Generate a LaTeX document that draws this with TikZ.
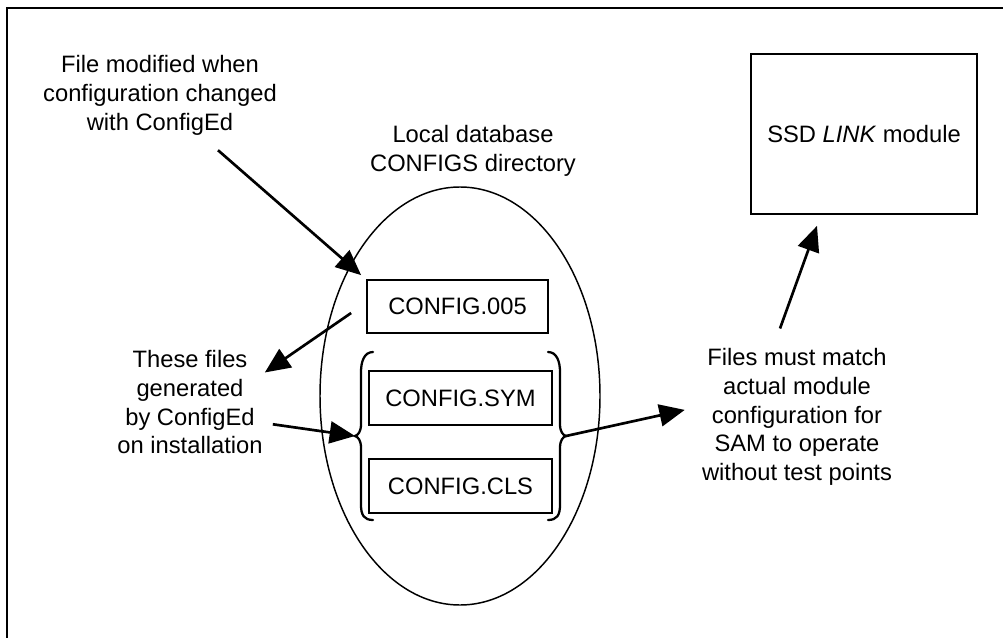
\documentclass[tikz,border=0pt]{standalone}
\usepackage{fontspec}
\setmainfont{Liberation Sans}
\usetikzlibrary{arrows.meta,calc,shapes.geometric}
\newcommand{\cfgfont}{\fontsize{17.8}{21.4}\selectfont}
\tikzset{%
  cfgbox/.style={%
    draw,
    line width=1.3pt,
    inner sep=0pt,
    minimum width=137.25pt,
    minimum height=40.5pt,
    font=\cfgfont
  },
  cfgnote/.style={%
    align=center,
    inner sep=0pt,
    anchor=north,
    font=\cfgfont
  },
  cfgarrow/.style={-{Triangle[length=19pt,width=16.5pt]},line width=2pt},
  cfgbrace/.style={line width=1.7pt,line cap=round}
}

\begin{document}
\begin{tikzpicture}[x=0.75pt,y=-0.75pt]
    \useasboundingbox (0,0) rectangle (1003,638);
    \draw[line width=1.8pt] (1003,8) -- (7,8) -- (7,638);

    \node[cfgnote] (modnote) at (160,55.5) {File modified when\\configuration changed\\with ConfigEd};
    \node[cfgnote] (dbnote) at (473,125.5) {Local database\\CONFIGS directory};
    \node[draw,ellipse,line width=1.1pt,inner sep=0pt,minimum width=210pt,minimum height=313.5pt] (db) at (460,396) {};
    \node[cfgbox,minimum width=135.75pt,minimum height=39.75pt] (cfg005) at (457.5,306.5) {CONFIG.005};
    \node[cfgbox] (cfgsym) at (460.5,398) {CONFIG.SYM};
    \node[cfgbox] (cfgcls) at (460.5,486) {CONFIG.CLS};
    \node[cfgbox,minimum width=169.5pt,minimum height=120pt] (ssd) at (864,134) {SSD \textit{LINK} module};
    \node[cfgnote] (gennote) at (190,350.5) {These files\\generated\\by ConfigEd\\on installation};
    \node[cfgnote] (matchnote) at (797,348.5) {Files must match\\actual module\\configuration for\\SAM to operate\\without test points};

    \coordinate (lbrace) at (355,436);
    \coordinate (rbrace) at (566,436);
    \draw[cfgbrace] (373,352) .. controls (364,352) and (361,362) .. (361,372) -- (361,424)
      .. controls (361,432) and (358,435) .. (lbrace) .. controls (358,437) and (361,440) .. (361,448)
      -- (361,505) .. controls (361,515) and (364,520) .. (373,520);
    \draw[cfgbrace] (548,352) .. controls (557,352) and (560,362) .. (560,372) -- (560,424)
      .. controls (560,432) and (563,435) .. (rbrace) .. controls (563,437) and (560,440) .. (560,448)
      -- (560,505) .. controls (560,515) and (557,520) .. (548,520);

    \draw[cfgarrow] ($(modnote.south)+(58,15)$) -- ($(cfg005.north west)+(-5,-4)$);
    \draw[cfgarrow] ($(cfg005.west)+(-15,6.5)$) -- ($(gennote.north east)+(2,22)$);
    \draw[cfgarrow] ($(gennote.east)+(10,22)$) -- (lbrace);
    \draw[cfgarrow] (rbrace) -- ($(matchnote.west)+(-17,-7)$);
    \draw[cfgarrow] ($(matchnote.north)+(-17,-20)$) -- ($(ssd.south)+(-47,11)$);
\end{tikzpicture}
\end{document}
